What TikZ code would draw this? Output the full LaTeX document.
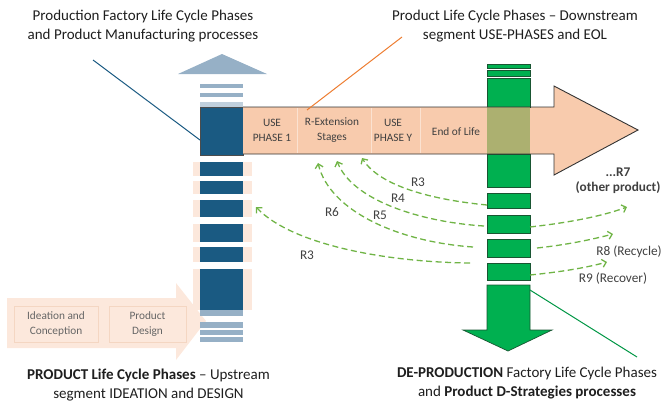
\documentclass[tikz,border=0pt]{standalone}
\usepackage{fontspec}
\setmainfont{Carlito}
\usetikzlibrary{arrows.meta}
\definecolor{dblue}{RGB}{26,90,130}
\definecolor{lblue}{RGB}{150,176,198}
\definecolor{peach}{RGB}{248,203,173}
\definecolor{fpeach}{RGB}{252,232,220}
\definecolor{fpeachline}{RGB}{244,214,194}
\definecolor{dgreen}{RGB}{0,176,80}
\definecolor{gline}{RGB}{25,85,50}
\definecolor{olivemix}{RGB}{172,176,112}
\definecolor{rgreen}{RGB}{112,180,70}
\definecolor{lorange}{RGB}{237,125,49}
\definecolor{txt}{RGB}{30,30,30}
\begin{document}
\begin{tikzpicture}[x=1pt,y=-1pt,
  title/.style={font=\fontsize{15}{19}\selectfont, text=txt, align=center, inner sep=0},
  cell/.style={font=\fontsize{11.3}{15}\selectfont, text=txt!85, align=center, inner sep=0},
  upcell/.style={draw=fpeachline, fill=fpeach, line width=0.6, minimum width=84, minimum height=36,
     font=\fontsize{11.3}{15}\selectfont, text=black!60, align=center, inner sep=0},
  rlabel/.style={font=\fontsize{13.3}{15}\selectfont, text=txt!85, inner sep=0, align=center},
  rarrow/.style={rgreen, line width=1.3pt, dash pattern=on 6pt off 3.5pt,
     -{Straight Barb[length=4pt,width=8pt,line width=1.3pt]}},
  gseg/.style={fill=dgreen, draw=gline, line width=0.7},
]
\useasboundingbox (0,0) rectangle (671,405);

% faint upstream arrow
\fill[fpeach] (7,298) -- (176,298) -- (176,283) -- (206,321) -- (176,360) -- (176,348) -- (7,348) -- cycle;
\node[upcell] (ide) at (56,324) {Ideation and\\Conception};
\node[upcell, minimum width=77] (des) at (147.5,324) {Product\\Design};

% peach band and blue column segments
\foreach \a/\b in {162/176,181/194,200/217,224/242,247/262,269/310}{
  \fill[fpeach] (193,\a) rectangle (252,\b);
  \fill[dblue] (200,\a) rectangle (243,\b);
}
\fill[lblue] (200,310) rectangle (243,316);
\fill[lblue] (200,322) rectangle (243,328);
\fill[lblue] (200,330) rectangle (243,335);
\fill[lblue] (200,337) rectangle (243,342);

% upward light blue arrow
\fill[lblue] (178,74) -- (222,54) -- (267,74) -- cycle;
\fill[lblue] (200,84) rectangle (243,88);
\fill[lblue] (200,93) rectangle (243,97);
\fill[lblue!60] (200,102) rectangle (243,107);
\fill[dblue] (200,107) rectangle (243,155);
\draw[black!70, line width=0.6] (200,107) rectangle (243,155);

% orange downstream arrow
\fill[peach] (243,107) -- (554,107) -- (554,86) -- (638,130) -- (554,175) -- (554,154) -- (243,154) -- cycle;
\foreach \x in {297,371,420}{
  \draw[white, opacity=0.45, line width=1] (\x,108) -- (\x,153);
}

% green column
\draw[gseg] (487,64) rectangle (530,68);
\draw[gseg] (487,70) rectangle (530,76);
\draw[gseg] (487,78) rectangle (530,107);
\fill[olivemix] (487,107) rectangle (530,154);
\draw[gseg] (487,154) rectangle (530,187);
\draw[gseg] (487,193) rectangle (530,208);
\draw[gseg] (487,215) rectangle (530,233);
\draw[gseg] (487,239) rectangle (530,257);
\draw[gseg] (487,263) rectangle (530,280);
\draw[gseg] (487,285) -- (487,330) -- (463,330) -- (508,351) -- (552,330) -- (530,330) -- (530,285) -- cycle;

% orange arrow outline
\draw[black!80, line width=0.9, line join=miter] (243,107) -- (554,107) -- (554,86) -- (638,130) -- (554,175) -- (554,154) -- (243,154);

% cell texts
\node[cell] (u1) at (272,130) {USE\\PHASE 1};
\node[cell] (rx) at (332,130) {R-Extension\\Stages};
\node[cell] (uy) at (393,130) {USE\\PHASE Y};
\node[cell] (eol) at (456,132) {End of Life};

% leader lines
\coordinate (lb1) at (93,60);  \coordinate (lb2) at (200,140);
\coordinate (lo1) at (402,37); \coordinate (lo2) at (307,110);
\coordinate (lg1) at (530,290); \coordinate (lg2) at (637,357);
\draw[dblue, line width=1] (lb1) -- (lb2);
\draw[lorange, line width=1] (lo1) -- (lo2);
\draw[dgreen!85!black, line width=1] (lg1) -- (lg2);

% titles
\node[title] (t1) at (143,26) {Production Factory Life Cycle Phases\\and Product Manufacturing processes};
\node[title] (t2) at (515,26.5) {Product Life Cycle Phases – Downstream\\segment USE-PHASES and EOL};
\node[title] (t3) at (148.5,385) {\textbf{PRODUCT Life Cycle Phases} – Upstream\\segment IDEATION and DESIGN};
\node[title] (t4) at (527,383) {\textbf{DE-PRODUCTION} Factory Life Cycle Phases\\and \textbf{Product D-Strategies processes}};

% R arrows to the left
\coordinate (a1s) at (487,205); \coordinate (a1e) at (362,158);
\coordinate (a2s) at (484,226); \coordinate (a2e) at (337,161);
\coordinate (a3s) at (473,247); \coordinate (a3e) at (318,163);
\coordinate (a4s) at (470,263); \coordinate (a4e) at (256,207);
\draw[rarrow] (a1s) .. controls (435,200) and (380,187) .. (a1e);
\draw[rarrow] (a2s) .. controls (420,222) and (352,200) .. (a2e);
\draw[rarrow] (a3s) .. controls (400,242) and (330,212) .. (a3e);
\draw[rarrow] (a4s) .. controls (380,262) and (290,243) .. (a4e);

% R arrows to the right
\coordinate (b1s) at (530,227); \coordinate (b1e) at (627,207);
\coordinate (b2s) at (537,248); \coordinate (b2e) at (613,234);
\coordinate (b3s) at (530,275); \coordinate (b3e) at (607,262);
\draw[rarrow] (b1s) .. controls (565,223) and (600,217) .. (b1e);
\draw[rarrow] (b2s) .. controls (565,245) and (590,240) .. (b2e);
\draw[rarrow] (b3s) .. controls (560,272) and (585,268) .. (b3e);

% labels
\node[rlabel] (r3a) at (418,182) {R3};
\node[rlabel] (r4) at (398,198) {R4};
\node[rlabel] (r5) at (380,215) {R5};
\node[rlabel] (r6) at (332,212) {R6};
\node[rlabel] (r3b) at (307,255) {R3};
\node[rlabel, font=\bfseries\fontsize{13.3}{15}\selectfont] (r7) at (618,172) {...R7};
\node[rlabel, font=\bfseries\fontsize{13.3}{15}\selectfont] (r7b) at (618,188) {(other product)};
\node[rlabel] (r8) at (629,252) {R8 (Recycle)};
\node[rlabel] (r9) at (613,279) {R9 (Recover)};
\end{tikzpicture}
\end{document}
